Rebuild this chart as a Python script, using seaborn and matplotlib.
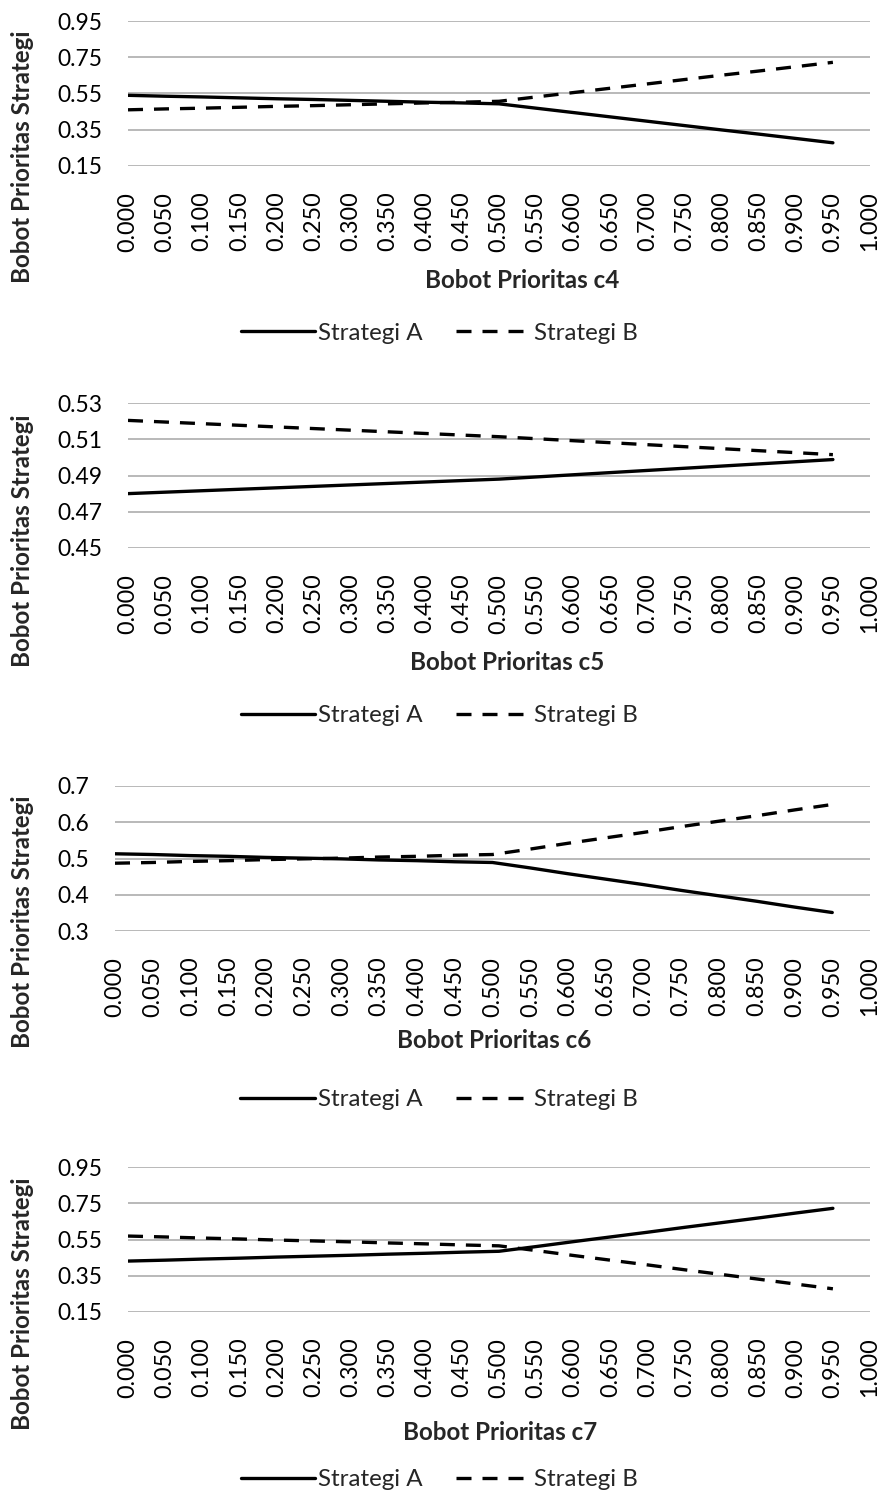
import numpy as np
import pandas as pd
import matplotlib
matplotlib.use("Agg")
import matplotlib.pyplot as plt
import seaborn as sns

# bobot prioritas (sumbu x)
x_vals = [0.000, 0.050, 0.100, 0.150, 0.200, 0.250, 0.300, 0.350, 0.400, 0.450,
          0.500, 0.550, 0.600, 0.650, 0.700, 0.750, 0.800, 0.850, 0.900, 0.950]
x_ticks = [0.000, 0.050, 0.100, 0.150, 0.200, 0.250, 0.300, 0.350, 0.400, 0.450,
           0.500, 0.550, 0.600, 0.650, 0.700, 0.750, 0.800, 0.850, 0.900, 0.950, 1.000]

# c4
c4_a = [0.540, 0.535, 0.531, 0.526, 0.521, 0.517, 0.512, 0.507, 0.502, 0.498,
        0.493, 0.469, 0.445, 0.421, 0.397, 0.373, 0.349, 0.326, 0.302, 0.278]
c4_b = [0.460, 0.465, 0.469, 0.474, 0.479, 0.483, 0.488, 0.493, 0.498, 0.502,
        0.507, 0.531, 0.555, 0.579, 0.603, 0.627, 0.651, 0.674, 0.698, 0.722]
# c5
c5_a = [0.4800, 0.4808, 0.4816, 0.4824, 0.4832, 0.4840, 0.4848, 0.4856, 0.4864, 0.4872,
        0.4880, 0.4892, 0.4904, 0.4916, 0.4928, 0.4940, 0.4952, 0.4964, 0.4976, 0.4988]
c5_b = [0.5204, 0.5195, 0.5186, 0.5177, 0.5168, 0.5159, 0.5150, 0.5141, 0.5132, 0.5123,
        0.5114, 0.5103, 0.5092, 0.5081, 0.5070, 0.5059, 0.5048, 0.5037, 0.5026, 0.5015]
# c6
c6_a = [0.513, 0.511, 0.508, 0.506, 0.503, 0.501, 0.499, 0.496, 0.494, 0.491,
        0.489, 0.474, 0.458, 0.443, 0.428, 0.412, 0.397, 0.382, 0.366, 0.351]
c6_b = [0.487, 0.489, 0.492, 0.494, 0.497, 0.499, 0.501, 0.504, 0.506, 0.509,
        0.511, 0.526, 0.542, 0.557, 0.572, 0.588, 0.603, 0.618, 0.634, 0.649]
# c7
c7_a = [0.431, 0.436, 0.442, 0.447, 0.453, 0.458, 0.463, 0.469, 0.474, 0.480,
        0.485, 0.511, 0.538, 0.564, 0.590, 0.617, 0.643, 0.669, 0.696, 0.722]
c7_b = [0.569, 0.564, 0.558, 0.553, 0.547, 0.542, 0.537, 0.531, 0.526, 0.520,
        0.515, 0.489, 0.462, 0.436, 0.410, 0.383, 0.357, 0.331, 0.304, 0.278]

y_ticks_c4 = [0.15, 0.35, 0.55, 0.75, 0.95]
y_ticks_c5 = [0.45, 0.47, 0.49, 0.51, 0.53]
y_ticks_c6 = [0.3, 0.4, 0.5, 0.6, 0.7]
y_ticks_c7 = [0.15, 0.35, 0.55, 0.75, 0.95]

sns.set_theme(style="white")
plt.rcParams['font.family'] = ['Lato', 'DejaVu Sans']

W, H = 883, 1493
fig = plt.figure(figsize=(W / 100, H / 100), dpi=100)

# (nama, A, B, yticks, format, kiri, atas, bawah, pusat xlabel x/y, pusat ylabel y, pusat legenda y)
panels = [
    ("c4", c4_a, c4_b, y_ticks_c4, "{:.2f}", 128, 21, 166, 522, 280, 157, 333),
    ("c5", c5_a, c5_b, y_ticks_c5, "{:.2f}", 128, 403, 548, 507, 663, 541, 716),
    ("c6", c6_a, c6_b, y_ticks_c6, "{:.1f}", 115, 786, 931, 494, 1041, 922, 1100),
    ("c7", c7_a, c7_b, y_ticks_c7, "{:.2f}", 128, 1167, 1312, 500, 1432, 1304, 1480),
]
right = 870
fs_lab = 17.4

for name, a, b, yt, fmt, left, top, bottom, xlx, xly, yly, legy in panels:
    h = bottom - top
    w = right - left
    ax = fig.add_axes([left / W, 1 - bottom / H, w / W, h / H])
    df = pd.DataFrame({
        "x": x_vals * 2,
        "y": a + b,
        "s": ["Strategi A"] * len(a) + ["Strategi B"] * len(b),
    })
    sns.lineplot(data=df, x="x", y="y", hue="s", style="s",
                 palette={"Strategi A": "black", "Strategi B": "black"},
                 dashes={"Strategi A": "", "Strategi B": (4.5, 3.3)},
                 linewidth=2.4, ax=ax, legend=True)

    ax.set_xlim(0, 1)
    ax.set_ylim(yt[0], yt[-1])
    ax.set_xticks(x_ticks)
    ax.set_xticklabels(["{:.3f}".format(t) for t in x_ticks], rotation=90, fontsize=16.8)
    ax.set_yticks(yt)
    ax.set_yticklabels([fmt.format(t) for t in yt], fontsize=16.4)
    ax.tick_params(axis="both", length=0, pad=18.5, colors="black")
    ax.grid(axis="y", color="#a6a6a6", linewidth=1.1)
    ax.grid(axis="x", visible=False)
    for sp in ax.spines.values():
        sp.set_visible(False)
    ax.set_axisbelow(True)

    ax.set_xlabel("Bobot Prioritas " + name, fontsize=fs_lab, fontweight="bold")
    ax.xaxis.label.set_va("center")
    ax.xaxis.set_label_coords((xlx - left) / w, (bottom - xly) / h)
    ax.set_ylabel("Bobot Prioritas Strategi", fontsize=fs_lab, fontweight="bold")
    ax.yaxis.label.set_va("center")
    ax.yaxis.set_label_coords((23 - left) / w, (bottom - yly) / h)

    handles, labels = ax.get_legend_handles_labels()
    ax.legend(handles, labels, loc="center", bbox_to_anchor=((439 - left) / w, (bottom - legy) / h),
              ncol=2, frameon=False, fontsize=fs_lab, handlelength=3.1,
              handletextpad=0.1, columnspacing=1.4)

fig.savefig("out.png", dpi=100)
